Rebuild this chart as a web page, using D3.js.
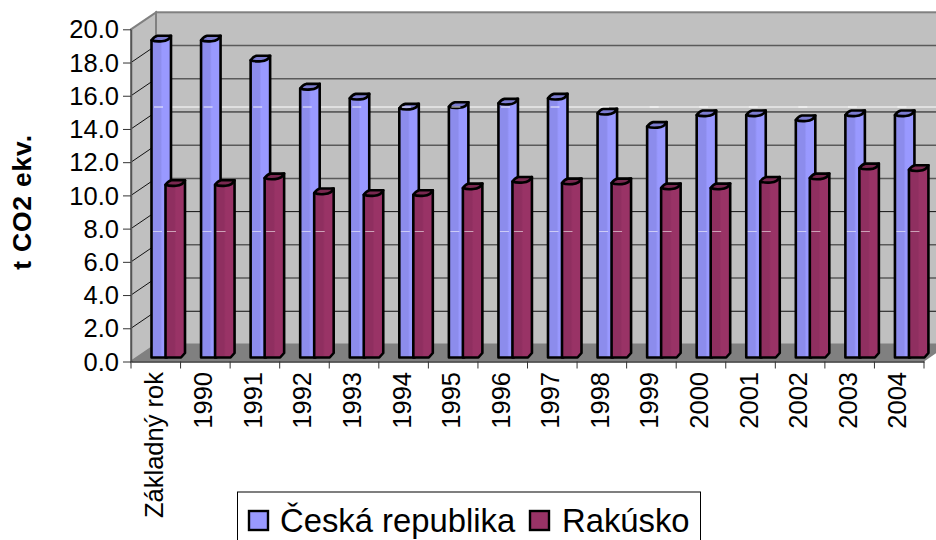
<!DOCTYPE html>
<html>
<head>
<meta charset="utf-8">
<script src="https://cdn.jsdelivr.net/npm/d3@7"></script>
<style>
  html, body { margin: 0; padding: 0; background: #fff; }
  svg { display: block; }
  text { font-family: "Liberation Sans", Arial, sans-serif; fill: #000; }
</style>
</head>
<body>
<svg id="drawing_region"></svg>
<script>
const categories = ["Základný rok","1990","1991","1992","1993","1994","1995","1996","1997","1998","1999","2000","2001","2002","2003","2004"];
const cesko = [19.1,19.1,17.9,16.2,15.6,15.0,15.1,15.3,15.6,14.7,13.9,14.6,14.6,14.3,14.6,14.6];
const rakusko = [10.4,10.4,10.8,9.9,9.8,9.8,10.2,10.6,10.5,10.5,10.2,10.2,10.6,10.8,11.4,11.3];
const yticks = [0,2,4,6,8,10,12,14,16,18,20];
const seriesNames = ["Česká republika","Rakúsko"];
const seriesColors = ["#9999ff","#993366"];
const seriesShade = ["#8c8cec","#8f2f60"];
const seriesTops = ["#7c7cd0","#7a2850"];

const width = 936, height = 540;
const depth = { x: 25, y: -17 };

const svg = d3.select("#drawing_region").attr("width", width).attr("height", height);

const yscale = d3.scaleLinear().domain([0, 20]).range([361.5, 29.3]);
const xscale = d3.scaleBand().domain(categories).range([131, 924]);
const band = xscale.bandwidth();

// bar shading, darker on the left
const defs = svg.append("defs");
seriesColors.forEach((c, k) => {
    const grad = defs.append("linearGradient").attr("id", "bar" + k);
    grad.append("stop").attr("offset", "0").attr("stop-color", seriesShade[k]);
    grad.append("stop").attr("offset", "0.45").attr("stop-color", seriesShade[k]);
    grad.append("stop").attr("offset", "0.55").attr("stop-color", c);
    grad.append("stop").attr("offset", "1").attr("stop-color", c);
});

// back wall, side wall and floor
const wallRight = 960;
const y0 = yscale(0), y20 = yscale(20);
svg.append("polygon")
    .attr("points", [[131,y0],[131,y20],[131+depth.x,y20+depth.y],[131+depth.x,y0+depth.y]].join(" "))
    .attr("fill", "#c0c0c0").attr("stroke", "#808080").attr("stroke-width", 2);
svg.append("rect")
    .attr("x", 131+depth.x).attr("y", y20+depth.y)
    .attr("width", wallRight).attr("height", y0-y20)
    .attr("fill", "#c0c0c0").attr("stroke", "#808080").attr("stroke-width", 2);
svg.append("polygon")
    .attr("points", [[131,y0],[131+depth.x,y0+depth.y],[924+depth.x,y0+depth.y],[924,y0]].join(" "))
    .attr("fill", "#808080");

// grid lines on the walls
const grid = svg.append("g").attr("fill", "none");
grid.selectAll("path.side").data(yticks.slice(1,-1)).enter().append("path").attr("class", "side")
    .attr("d", d => `M131,${yscale(d)}L${131+depth.x},${yscale(d)+depth.y}`)
    .attr("stroke", "#111").attr("stroke-width", 1);
grid.selectAll("path.back").data(yticks.slice(1,-1)).enter().append("path").attr("class", "back")
    .attr("d", d => `M${131+depth.x},${yscale(d)+depth.y}H${wallRight}`)
    .attr("stroke", (d, i) => (i % 3 == 0 ? "#111" : "#5a5a5a"))
    .attr("stroke-width", (d, i) => (i % 3 == 0 ? 1 : 1.5));

// white stripe across the wall
svg.append("line").attr("x1", 156).attr("x2", width).attr("y1", 107).attr("y2", 107)
    .attr("stroke", "#fff").attr("stroke-width", 1);

// front axes
const yaxis_group = svg.append("g").attr("transform", "translate(131,0)")
    .call(d3.axisLeft(yscale).tickValues(yticks).tickFormat(d3.format(".1f")).tickSize(8).tickPadding(4).tickSizeOuter(0));
yaxis_group.selectAll("text").attr("font-size", 25.5).attr("dy", "0.34em");
yaxis_group.selectAll("line").attr("stroke", "#333");
yaxis_group.select(".domain").attr("stroke", "#555").attr("stroke-width", 1.5);
const xaxis_group = svg.append("g").attr("transform", `translate(0,${y0})`)
    .call(d3.axisBottom(xscale).tickSize(0).tickFormat(""));
xaxis_group.select(".domain").attr("stroke", "#333").attr("stroke-width", 1.5);
svg.append("g").selectAll("line").data(categories.concat([null])).enter().append("line")
    .attr("x1", (d, i) => 131 + i*band).attr("x2", (d, i) => 131 + i*band)
    .attr("y1", y0).attr("y2", y0+7).attr("stroke", "#333");

// bars
const valueY = v => yscale(v) - 4;
const barW = 15.5, capDx = 4, capDy = -4.5;
function drawBars(values, offset, k) {
    const g = svg.append("g");
    values.forEach((v, i) => {
        const x = xscale(categories[i]) + offset;
        const y = valueY(v), b = valueY(0);
        const r = x + barW + capDx;
        const bar = g.append("g").attr("stroke", "#000").attr("stroke-width", 2.6).attr("stroke-linejoin", "round");
        bar.append("path").attr("fill", `url(#bar${k})`)
            .attr("d", `M${x},${y}V${b}H${x+barW}L${r},${b+capDy}V${y+capDy}Z`);
        bar.append("path").attr("fill", seriesTops[k])
            .attr("d", `M${x},${y}Q${x+3},${y+capDy*0.9} ${x+capDx+2},${y+capDy}H${r}Q${r-2},${y+0.4} ${x+barW-5},${y+1}Q${x+4},${y+1.6} ${x},${y}Z`);
    });
    return g;
}
drawBars(cesko, 20.5, 0);
drawBars(rakusko, 34.5, 1);

// white streaks that run over the bars
const streaks = svg.append("g").attr("stroke", "#fff");
categories.forEach(c => {
    const x = xscale(c);
    streaks.append("line").attr("x1", x+23).attr("x2", x+32).attr("y1", 107).attr("y2", 107).attr("opacity", 0.9);
    [22, 36].forEach(o => {
        streaks.append("line").attr("x1", x+o).attr("x2", x+o+9).attr("y1", 231.5).attr("y2", 231.5).attr("opacity", 0.55);
    });
});

// y title
svg.append("text").attr("transform", "translate(31,202) rotate(-90)")
    .attr("text-anchor", "middle").attr("font-size", 26.5).attr("font-weight", "bold")
    .attr("letter-spacing", 0.8).text("t CO2 ekv.");

// category labels
svg.append("g").selectAll("text").data(categories).enter().append("text")
    .attr("transform", d => `translate(${xscale(d)+band/2+7},372) rotate(-90)`)
    .attr("text-anchor", "end").attr("font-size", 25.5).text(d => d);

// legend
const legend = svg.append("g");
legend.append("rect").attr("x", 237.5).attr("y", 492).attr("width", 463).attr("height", 60)
    .attr("fill", "#fff").attr("stroke", "#000");
const legendX = [249, 530];
const legendTextX = [280, 562];
seriesNames.forEach((name, i) => {
    legend.append("rect").attr("x", legendX[i]).attr("y", 511).attr("width", 19).attr("height", 19)
        .attr("fill", seriesColors[i]).attr("stroke", "#000").attr("stroke-width", 2.4);
    legend.append("text").attr("x", legendTextX[i]).attr("y", 532).attr("font-size", 32.8).text(name);
});
</script>
</body>
</html>
